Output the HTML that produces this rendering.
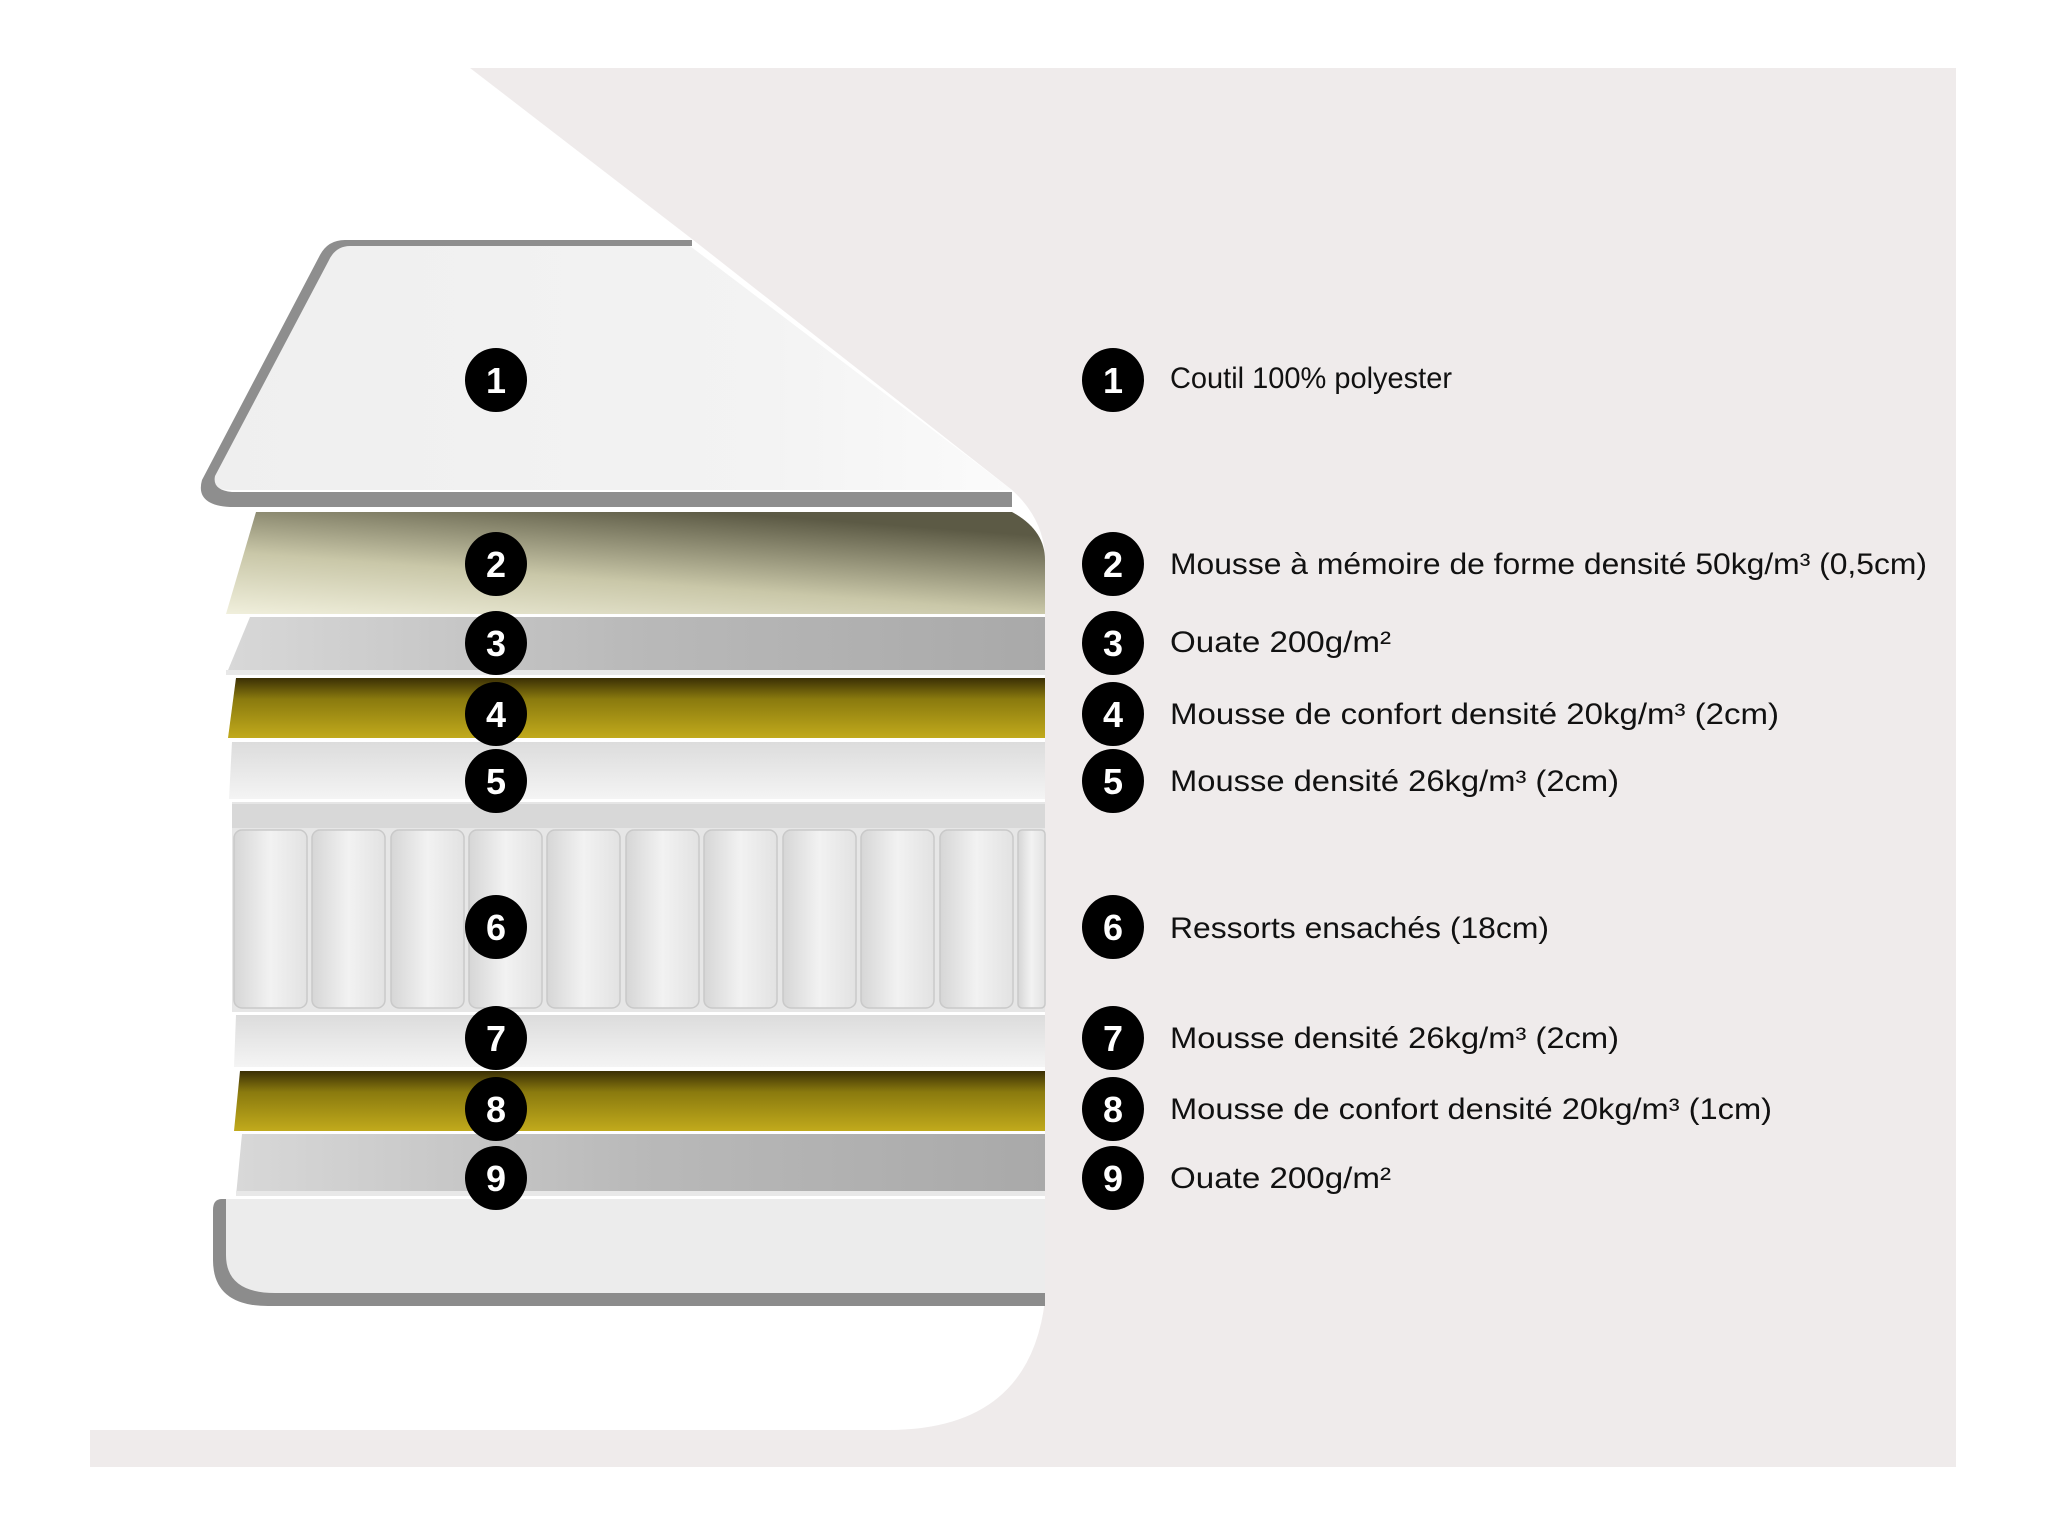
<!DOCTYPE html>
<html><head><meta charset="utf-8"><style>
html,body{margin:0;padding:0;background:#fff;}
svg{display:block;}
text{font-family:"Liberation Sans",sans-serif;}
</style></head><body>
<svg width="2048" height="1536" viewBox="0 0 2048 1536" xmlns="http://www.w3.org/2000/svg">
<defs>
<linearGradient id="mem" x1="0" y1="1" x2="0.6" y2="0">
<stop offset="0" stop-color="#f0efdc"/><stop offset="0.45" stop-color="#c9c7a8"/><stop offset="1" stop-color="#5c5a45"/>
</linearGradient>
<linearGradient id="ol" x1="0" y1="0" x2="0" y2="1">
<stop offset="0" stop-color="#3a2f05"/><stop offset="0.35" stop-color="#8a7a0e"/><stop offset="1" stop-color="#c1aa1c"/>
</linearGradient>
<linearGradient id="ouate" x1="0" y1="0" x2="1" y2="0">
<stop offset="0" stop-color="#d8d8d8"/><stop offset="0.5" stop-color="#b9b9b9"/><stop offset="1" stop-color="#a9a9a9"/>
</linearGradient>
<linearGradient id="wh" x1="0" y1="0" x2="0" y2="1">
<stop offset="0" stop-color="#dcdcdc"/><stop offset="1" stop-color="#f4f4f4"/>
</linearGradient>
<linearGradient id="top" x1="0" y1="0" x2="1" y2="0">
<stop offset="0" stop-color="#efefef"/><stop offset="0.7" stop-color="#f3f3f3"/><stop offset="1" stop-color="#fbfbfb"/>
</linearGradient>
<linearGradient id="col" x1="0" y1="0" x2="1" y2="0">
<stop offset="0" stop-color="#d6d6d6"/><stop offset="0.5" stop-color="#f2f2f2"/><stop offset="1" stop-color="#e2e2e2"/>
</linearGradient>
</defs>
<rect x="90" y="68" width="1866" height="1399" fill="#efebeb"/>
<path d="M90 68 L470 68 L692 239 L1012 490 Q1045 520 1045 560 L1045 1300 Q1030 1430 888 1430 L90 1430 Z" fill="#fff"/>
<!-- layer 1 -->
<path d="M348 246 L690 246 L1012 490 L230 490 Q210 490 214 476 L326 260 Q333 246 348 246 Z" fill="url(#top)"/>
<path d="M692 240 L345 240 Q328 240 320 255 L202 480 Q195 505 230 507 L1012 507 L1012 492 L232 492 Q212 490 215 476 L328 262 Q335 246 350 246 L692 246 Z" fill="#8e8e8e"/>
<!-- layer 2 -->
<path d="M256 512 L1012 512 Q1045 530 1045 560 L1045 614 L226 614 Z" fill="url(#mem)"/>
<!-- layer 3 -->
<path d="M250 617 L1045 617 L1045 675 L226 675 Z" fill="url(#ouate)"/>
<rect x="226" y="670" width="819" height="5" fill="#e8e8e8"/>
<!-- layer 4 -->
<path d="M236 678 L1045 678 L1045 738 L228 738 Z" fill="url(#ol)"/>
<!-- layer 5 -->
<path d="M232 742 L1045 742 L1045 799 L229 799 Z" fill="url(#wh)"/>
<!-- springs -->
<rect x="232" y="802" width="813" height="210" fill="#e6e6e6"/>
<g fill="url(#col)" stroke="#c9c9c9" stroke-width="1.5">
<rect x="234" y="830" width="73" height="178" rx="8"/>
<rect x="312" y="830" width="73" height="178" rx="8"/>
<rect x="391" y="830" width="73" height="178" rx="8"/>
<rect x="469" y="830" width="73" height="178" rx="8"/>
<rect x="547" y="830" width="73" height="178" rx="8"/>
<rect x="626" y="830" width="73" height="178" rx="8"/>
<rect x="704" y="830" width="73" height="178" rx="8"/>
<rect x="783" y="830" width="73" height="178" rx="8"/>
<rect x="861" y="830" width="73" height="178" rx="8"/>
<rect x="940" y="830" width="73" height="178" rx="8"/>
<rect x="1018" y="830" width="27" height="178" rx="4"/>
</g>
<rect x="232" y="804" width="813" height="24" fill="#d2d2d2" opacity="0.7"/>
<!-- layer 7 -->
<path d="M236 1015 L1045 1015 L1045 1067 L234 1067 Z" fill="url(#wh)"/>
<!-- layer 8 -->
<path d="M240 1071 L1045 1071 L1045 1131 L234 1131 Z" fill="url(#ol)"/>
<!-- layer 9 -->
<path d="M242 1134 L1045 1134 L1045 1196 L236 1196 Z" fill="url(#ouate)"/>
<rect x="236" y="1191" width="809" height="5" fill="#e8e8e8"/>
<!-- bottom cover -->
<path d="M222 1199 L1045 1199 L1045 1306 L268 1306 Q213 1306 213 1260 L213 1210 Q213 1199 222 1199 Z" fill="#8c8c8c"/>
<path d="M226 1199 L1045 1199 L1045 1293 L275 1293 Q226 1293 226 1255 Z" fill="#ececec"/>
<!-- circles left -->
<g font-size="36" font-weight="bold" fill="#fff" text-anchor="middle">
<ellipse cx="496" cy="380" rx="31" ry="32" fill="#000"/><text x="496" y="393">1</text>
<ellipse cx="496" cy="564" rx="31" ry="32" fill="#000"/><text x="496" y="577">2</text>
<ellipse cx="496" cy="643" rx="31" ry="32" fill="#000"/><text x="496" y="656">3</text>
<ellipse cx="496" cy="714" rx="31" ry="32" fill="#000"/><text x="496" y="727">4</text>
<ellipse cx="496" cy="781" rx="31" ry="32" fill="#000"/><text x="496" y="794">5</text>
<ellipse cx="496" cy="927" rx="31" ry="32" fill="#000"/><text x="496" y="940">6</text>
<ellipse cx="496" cy="1038" rx="31" ry="32" fill="#000"/><text x="496" y="1051">7</text>
<ellipse cx="496" cy="1109" rx="31" ry="32" fill="#000"/><text x="496" y="1122">8</text>
<ellipse cx="496" cy="1178" rx="31" ry="32" fill="#000"/><text x="496" y="1191">9</text>
</g>
<g font-size="36" font-weight="bold" fill="#fff" text-anchor="middle">
<ellipse cx="1113" cy="380" rx="31" ry="32" fill="#000"/><text x="1113" y="393">1</text>
<ellipse cx="1113" cy="564" rx="31" ry="32" fill="#000"/><text x="1113" y="577">2</text>
<ellipse cx="1113" cy="643" rx="31" ry="32" fill="#000"/><text x="1113" y="656">3</text>
<ellipse cx="1113" cy="714" rx="31" ry="32" fill="#000"/><text x="1113" y="727">4</text>
<ellipse cx="1113" cy="781" rx="31" ry="32" fill="#000"/><text x="1113" y="794">5</text>
<ellipse cx="1113" cy="927" rx="31" ry="32" fill="#000"/><text x="1113" y="940">6</text>
<ellipse cx="1113" cy="1038" rx="31" ry="32" fill="#000"/><text x="1113" y="1051">7</text>
<ellipse cx="1113" cy="1109" rx="31" ry="32" fill="#000"/><text x="1113" y="1122">8</text>
<ellipse cx="1113" cy="1178" rx="31" ry="32" fill="#000"/><text x="1113" y="1191">9</text>
</g>
<g font-size="30" fill="#111">
<text x="1170" y="388" textLength="282" lengthAdjust="spacingAndGlyphs">Coutil 100% polyester</text>
<text x="1170" y="574" textLength="757" lengthAdjust="spacingAndGlyphs">Mousse à mémoire de forme densité 50kg/m³ (0,5cm)</text>
<text x="1170" y="652" textLength="221" lengthAdjust="spacingAndGlyphs">Ouate 200g/m²</text>
<text x="1170" y="724" textLength="609" lengthAdjust="spacingAndGlyphs">Mousse de confort densité 20kg/m³ (2cm)</text>
<text x="1170" y="791" textLength="449" lengthAdjust="spacingAndGlyphs">Mousse densité 26kg/m³ (2cm)</text>
<text x="1170" y="938" textLength="379" lengthAdjust="spacingAndGlyphs">Ressorts ensachés (18cm)</text>
<text x="1170" y="1048" textLength="449" lengthAdjust="spacingAndGlyphs">Mousse densité 26kg/m³ (2cm)</text>
<text x="1170" y="1119" textLength="602" lengthAdjust="spacingAndGlyphs">Mousse de confort densité 20kg/m³ (1cm)</text>
<text x="1170" y="1188" textLength="221" lengthAdjust="spacingAndGlyphs">Ouate 200g/m²</text>
</g>
</svg>
</body></html>
